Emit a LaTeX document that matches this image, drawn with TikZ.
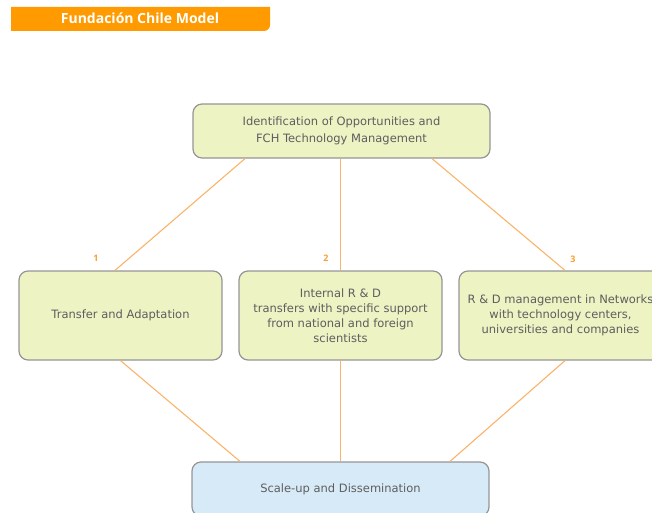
\documentclass[tikz,border=0pt]{standalone}
\usepackage{fontspec}
\setmainfont{Open Sans}
\newfontfamily\boxfont{DejaVu Sans}
\usetikzlibrary{calc}
\definecolor{boxfill}{HTML}{EEF3C4}
\definecolor{boxdraw}{HTML}{959595}
\definecolor{bluefill}{HTML}{D7EAF8}
\definecolor{linkcol}{HTML}{F9B46A}
\definecolor{numcol}{HTML}{F7A035}
\definecolor{bannercol}{HTML}{FF9A00}
\definecolor{txtcol}{HTML}{5E5E5E}
\tikzset{
  stagebox/.style={draw=boxdraw, line width=1.2pt, fill=boxfill, rounded corners=9pt,
    text=txtcol, font=\boxfont\fontsize{11.5}{15}\selectfont, align=center, inner sep=2pt},
  link/.style={draw=linkcol, line width=1.1pt},
  numlabel/.style={text=numcol, font=\fontsize{9}{10}\selectfont\bfseries, inner sep=0pt}
}
\begin{document}
\begin{tikzpicture}[x=1pt,y=-1pt]
\useasboundingbox (0,0) rectangle (652,513);
\clip (0,0) rectangle (652,513);
% banner
\fill[bannercol] (11,7) -- (270,7) -- (270,25) arc[start angle=0, end angle=90, radius=6] -- (11,31) -- cycle;
\node[text=white, font=\fontsize{14}{15}\selectfont\bfseries, inner sep=0pt] (title) at (140,18.5) {Fundación Chile Model};
% boxes
\node[stagebox, minimum width=297pt, minimum height=54pt, font=\boxfont\fontsize{11.5}{17}\selectfont] (top) at (341.5,131) {Identification of Opportunities and\\FCH Technology Management};
\node[stagebox, minimum width=203pt, minimum height=89pt] (left) at (120.5,315.5) {Transfer and Adaptation};
\node[stagebox, minimum width=203pt, minimum height=89pt] (mid) at (340.5,315.5) {Internal R \& D\\transfers with specific support\\from national and foreign\\scientists};
\node[stagebox, minimum width=203pt, minimum height=89pt] (right) at (560.5,315.5) {R \& D management in Networks\\with technology centers,\\universities and companies};
\node[stagebox, fill=bluefill, minimum width=297pt, minimum height=54pt] (bottom) at (340.5,489) {Scale-up and Dissemination};
% connectors
\draw[link] ([xshift=-96.5pt]top.south) -- ([xshift=-5.5pt]left.north);
\draw[link] ([xshift=-1pt]top.south) -- (mid.north);
\draw[link] ([xshift=90.5pt]top.south) -- ([xshift=4.5pt]right.north);
\draw[link] (left.south) -- ([xshift=-100.5pt]bottom.north);
\draw[link] (mid.south) -- (bottom.north);
\draw[link] ([xshift=4.5pt]right.south) -- ([xshift=109.5pt]bottom.north);
% numbers
\node[numlabel] (n1) at (96,258.5) {1};
\node[numlabel] (n2) at (326,258.5) {2};
\node[numlabel] (n3) at (573,259.5) {3};
\end{tikzpicture}
\end{document}
